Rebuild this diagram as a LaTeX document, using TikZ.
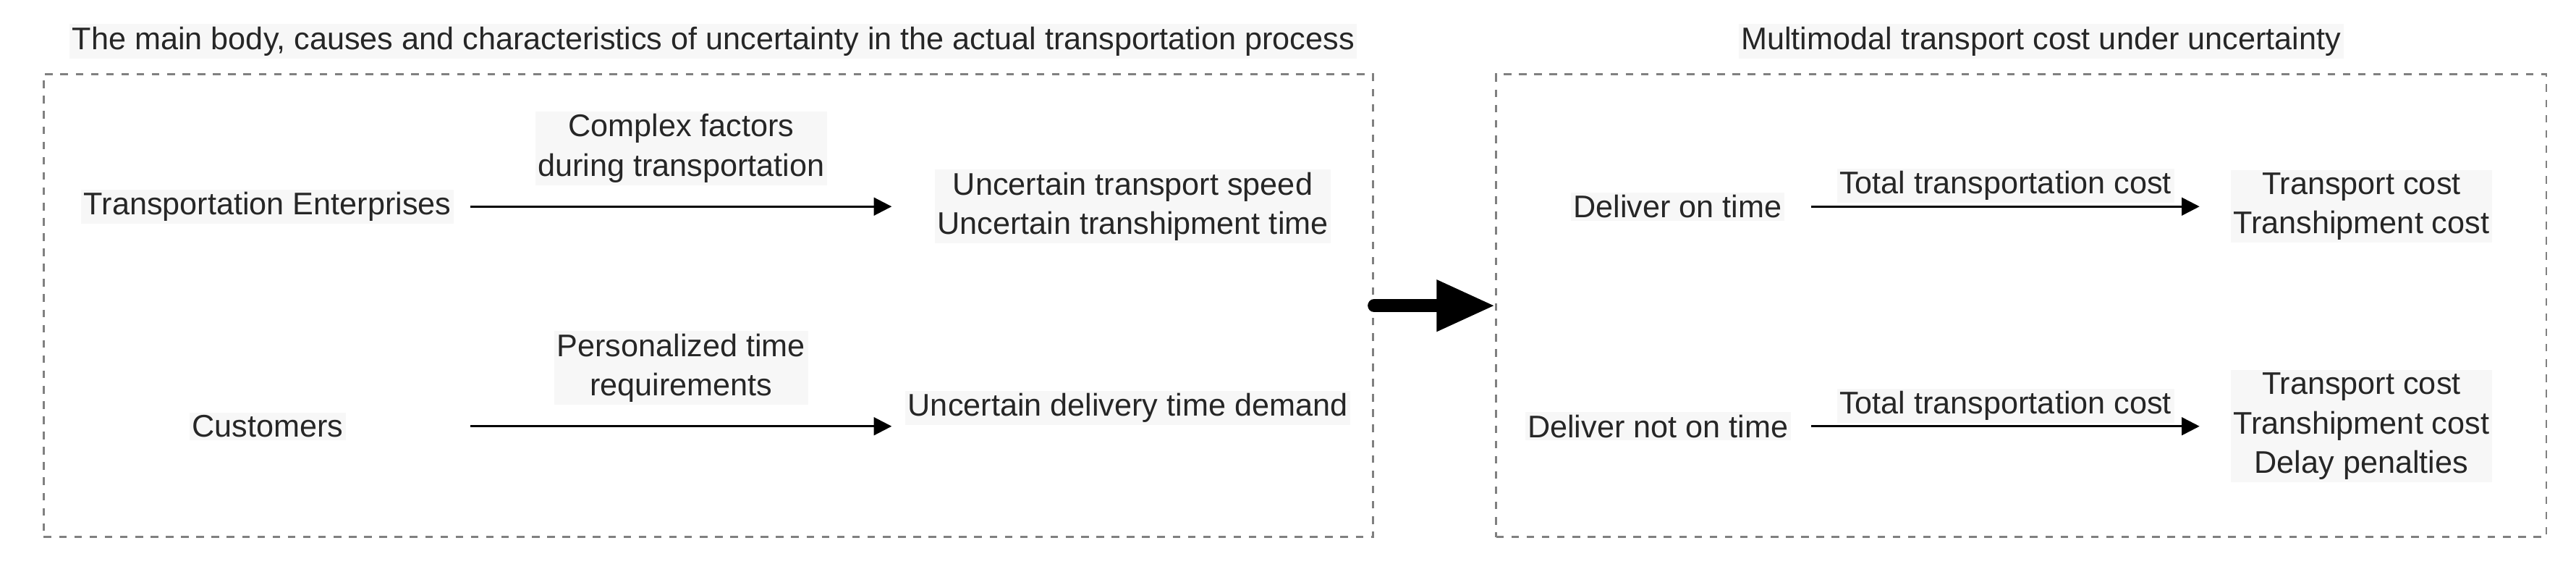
\documentclass[tikz,border=0pt]{standalone}
\usepackage{fontspec}
\setmainfont{Liberation Sans}
\usetikzlibrary{arrows.meta, positioning}

\definecolor{txtbg}{HTML}{F7F7F7}
\definecolor{boxgray}{HTML}{808080}

\begin{document}
\begin{tikzpicture}[x=0.02282cm, y=-0.02282cm, >=Triangle,
    lbl/.style={fill=txtbg, inner sep=1pt, align=center, font=\fontsize{12.3}{15.5}\selectfont, text=black!85},
    frame/.style={draw=boxgray, dashed, thick},
    flow/.style={->, thick, >={Triangle[length=7pt, width=7pt]}}]
    \useasboundingbox (0,0) rectangle (1560,346);

    % Frames and titles
    \node[frame, minimum width=805*0.02282cm, minimum height=280*0.02282cm] (lbox) at (429,185) {};
    \node[frame, minimum width=636*0.02282cm, minimum height=280*0.02282cm] (rbox) at (1224,185) {};
    \node[lbl] (ltitle) at (432,25) {The main body, causes and characteristics of uncertainty in the actual transportation process};
    \node[lbl] (rtitle) at (1236,25) {Multimodal transport cost under uncertainty};

    % Left frame: row 1
    \node[lbl] (ent) at (162,125) {Transportation Enterprises};
    \node[lbl] (ent-out) at (686,125) {Uncertain transport speed\\Uncertain transhipment time};
    \coordinate (e1) at (285,125);
    \coordinate (e2) at (540,125);
    \draw[flow] (e1) -- node[lbl, above=8pt] {Complex factors\\during transportation} (e2);

    % Left frame: row 2
    \node[lbl] (cus) at (162,258) {Customers};
    \node[lbl] (cus-out) at (683,247) {Uncertain delivery time demand};
    \coordinate (c1) at (285,258);
    \coordinate (c2) at (540,258);
    \draw[flow] (c1) -- node[lbl, above=8pt] {Personalized time\\requirements} (c2);

    % Big arrow between frames
    \draw[line width=5pt, line cap=round, -{Triangle[length=23pt, width=19pt]}] (lbox.east) -- (rbox.west);

    % Right frame
    \node[lbl] (ontime) at (1016,125) {Deliver on time};
    \node[lbl] (ontime-out) at (1430,125) {Transport cost\\Transhipment cost};
    \coordinate (o1) at (1097,125);
    \coordinate (o2) at (1332,125);
    \draw[flow] (o1) -- node[lbl, above=1pt] {Total transportation cost} (o2);

    \node[lbl] (late) at (1004,258) {Deliver not on time};
    \node[lbl] (late-out) at (1430,258) {Transport cost\\Transhipment cost\\Delay penalties};
    \coordinate (n1) at (1097,258);
    \coordinate (n2) at (1332,258);
    \draw[flow] (n1) -- node[lbl, above=1pt] {Total transportation cost} (n2);
\end{tikzpicture}
\end{document}
